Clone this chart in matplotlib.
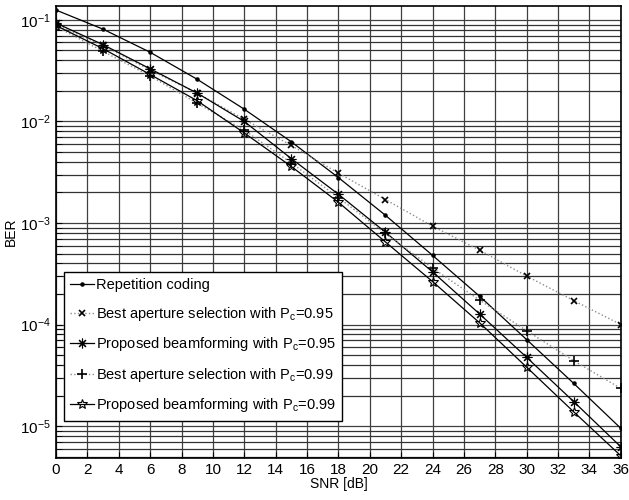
import matplotlib
matplotlib.use("Agg")
import matplotlib.pyplot as plt
import numpy as np
from matplotlib.ticker import LogLocator, MultipleLocator, NullFormatter

plt.rcParams['font.family'] = ['Liberation Sans', 'DejaVu Sans']
plt.rcParams['mathtext.default'] = 'regular'

snr = [0, 3, 6, 9, 12, 15, 18, 21, 24, 27, 30, 33, 36]

rep_coding = [0.125, 0.081, 0.048, 0.026, 0.0132, 0.0063, 0.0028, 0.00119,
              4.8e-4, 1.9e-4, 7.1e-5, 2.63e-5, 9.5e-6]
best_095 = [0.090, 0.056, 0.032, 0.019, 0.0105, 0.0058, 0.0031, 0.0017,
            9.3e-4, 5.4e-4, 3.0e-4, 1.72e-4, 1.0e-4]
prop_095 = [0.093, 0.057, 0.033, 0.019, 0.0100, 0.0043, 0.00192, 8.1e-4,
            3.3e-4, 1.27e-4, 4.75e-5, 1.74e-5, 6.25e-6]
best_099 = [0.086, 0.049, 0.028, 0.0151, 0.0082, 0.0039, 0.00178, 7.9e-4,
            3.6e-4, 1.74e-4, 8.7e-5, 4.4e-5, 2.35e-5]
prop_099 = [0.088, 0.052, 0.029, 0.0160, 0.0077, 0.0036, 0.0016, 6.5e-4,
            2.65e-4, 1.04e-4, 3.8e-5, 1.38e-5, 5.1e-6]

labels = ['Repetition coding',
          'Best aperture selection with P$_c$=0.95',
          'Proposed beamforming with P$_c$=0.95',
          'Best aperture selection with P$_c$=0.99',
          'Proposed beamforming with P$_c$=0.99']

fig = plt.figure(figsize=(6.29, 5.0), dpi=100)
ax = fig.add_axes([0.089, 0.084, 0.898, 0.904])

ax.semilogy(snr, rep_coding, '-', color='k', lw=0.9, marker='.', ms=4.5, label=labels[0])
ax.semilogy(snr, best_095, ':', color='0.55', lw=1.0, marker='x', ms=4.5,
            mec='k', mew=1.2, label=labels[1])
ax.semilogy(snr, prop_095, '-', color='k', lw=0.9, marker=(8, 2, 0), ms=7,
            mew=0.8, label=labels[2])
ax.semilogy(snr, best_099, ':', color='0.55', lw=1.0, marker='+', ms=7,
            mec='k', mew=1.2, label=labels[3])
ax.semilogy(snr, prop_099, '-', color='k', lw=0.9, marker='*', ms=7.5,
            mfc='none', mec='k', mew=0.8, label=labels[4])

ax.set_xlim(0, 36)
ax.set_ylim(4.85e-6, 0.137)
ax.xaxis.set_major_locator(MultipleLocator(2))
ax.yaxis.set_major_locator(LogLocator(base=10, numticks=10))
ax.yaxis.set_minor_locator(LogLocator(base=10, subs=np.arange(2, 10), numticks=20))
ax.yaxis.set_minor_formatter(NullFormatter())

ax.grid(True, which='major', axis='both', color='0.25', lw=0.9)
ax.grid(True, which='minor', axis='y', color='0.2', lw=0.9)
ax.set_axisbelow(True)

ax.tick_params(which='both', direction='in', labelsize=11, length=4)
for s in ax.spines.values():
    s.set_linewidth(1.2)
    s.set_color('k')

ax.set_xlabel('SNR [dB]', fontsize=10, labelpad=0)
ax.set_ylabel('BER', fontsize=10, labelpad=2)

leg = ax.legend(loc='lower left', bbox_to_anchor=(0.014, 0.082), borderaxespad=0,
                fancybox=False, edgecolor='k', framealpha=1, fontsize=10.5,
                handlelength=1.6, handletextpad=0.15, labelspacing=0.86,
                borderpad=0.45)
leg.get_frame().set_linewidth(1.0)

fig.savefig('out.png', dpi=100)
